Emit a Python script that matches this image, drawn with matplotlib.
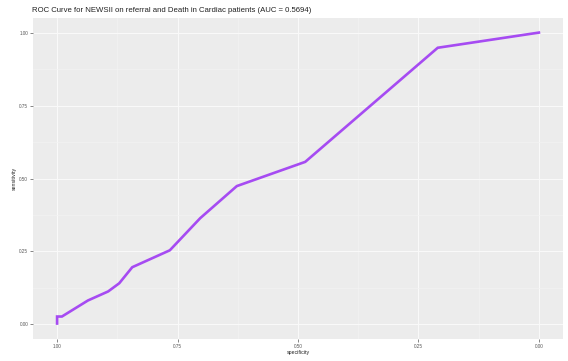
import numpy as np
import matplotlib.pyplot as plt
from matplotlib.ticker import MultipleLocator

specificity = [1.0, 1.0, 0.990, 0.936, 0.894, 0.871, 0.844, 0.766, 0.703, 0.627, 0.485, 0.210, 0.0]
sensitivity = [0.003, 0.027, 0.027, 0.082, 0.113, 0.141, 0.196, 0.254, 0.364, 0.474, 0.557, 0.948, 1.0]
ticks = [1.00, 0.75, 0.50, 0.25, 0.00]
tick_labels = ["1.00", "0.75", "0.50", "0.25", "0.00"]

plt.rcParams['font.family'] = ['Liberation Sans', 'DejaVu Sans']

fig = plt.figure(figsize=(5.68, 3.61), dpi=100)
ax = fig.add_axes([33/568, 22/361, 530/568, 321/361])
ax.set_facecolor('#ECECEC')
for s in ax.spines.values():
    s.set_visible(False)

ax.plot(specificity, sensitivity, color='#a64bf2', lw=1.9, solid_joinstyle='miter', zorder=3)

ax.set_xlim(1.05, -0.05)
ax.set_ylim(-0.05, 1.05)
ax.set_xticks(ticks)
ax.set_xticklabels(tick_labels)
ax.set_yticks(ticks)
ax.set_yticklabels(tick_labels)
ax.xaxis.set_minor_locator(MultipleLocator(0.125))
ax.yaxis.set_minor_locator(MultipleLocator(0.125))
ax.grid(which='major', color='#FAFAFA', lw=0.7)
ax.grid(which='minor', color='#F3F3F3', lw=0.5)
ax.set_axisbelow(True)
ax.tick_params(which='major', length=2, width=0.5, color='#555555', labelsize=3.3,
               labelcolor='#555555', pad=1.5)
ax.tick_params(which='minor', length=0)

ax.set_xlabel('specificity', fontsize=3.8, labelpad=1, color='#222222')
ax.set_ylabel('sensitivity', fontsize=3.8, labelpad=2, color='#222222')
ax.set_title('ROC Curve for NEWSII on referral and Death in Cardiac patients (AUC = 0.5694)',
             fontsize=5.6, loc='left', x=-0.001, pad=4, color='#222222')

fig.savefig('out.png', dpi=100)
